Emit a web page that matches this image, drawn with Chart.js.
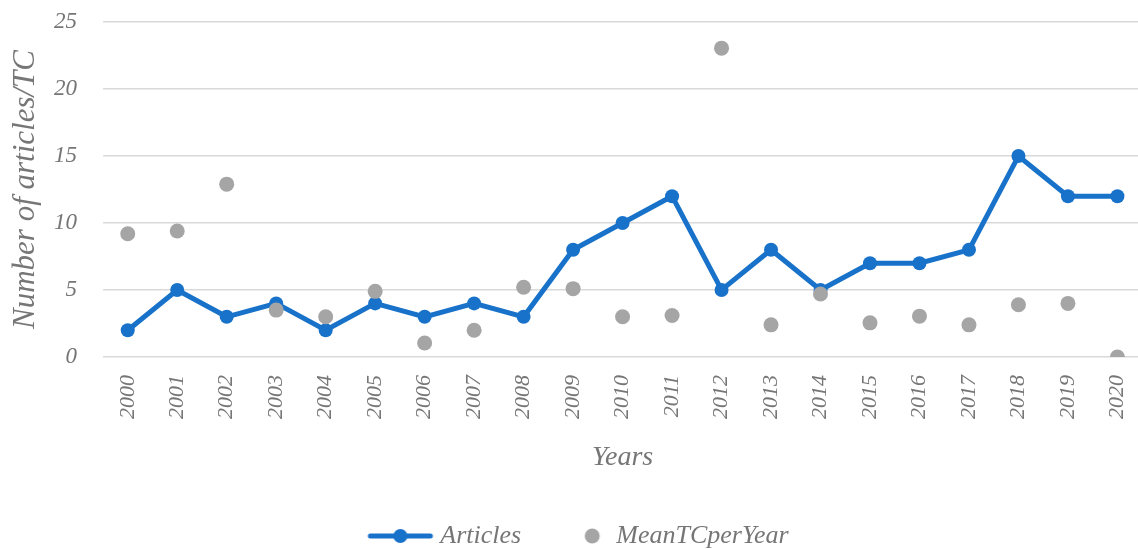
<!DOCTYPE html>
<html>
<head>
<meta charset="utf-8">
<script src="https://cdn.jsdelivr.net/npm/chart.js@4.4.0/dist/chart.umd.min.js"></script>
<style>
  html, body { margin: 0; padding: 0; background: #fff; overflow: hidden; }
  #wrap { width: 1154px; height: 549px; }
</style>
</head>
<body>
<div id="wrap"><canvas id="chart"></canvas></div>
<script>
// ===== Data =====
const years = ["2000", "2001", "2002", "2003", "2004", "2005", "2006", "2007", "2008", "2009", "2010",
  "2011", "2012", "2013", "2014", "2015", "2016", "2017", "2018", "2019", "2020"];
const articles = [2, 5, 3, 4, 2, 4, 3, 4, 3, 8, 10, 12, 5, 8, 5, 7, 7, 8, 15, 12, 12];
const meanTCperYear = [9.2, 9.4, 12.9, 3.5, 3.0, 4.9, 1.05, 2.0, 5.2, 5.1, 3.0, 3.1, 23.05, 2.4, 4.7, 2.55, 3.05, 2.4, 3.9, 4.0, 0];
const yTicks = [0, 5, 10, 15, 20, 25];

const blue = "#1872C9";
const grey = "#A5A5A5";
const textGrey = "#767676";
const fontFamily = "'Liberation Serif', 'DejaVu Serif', serif";

// ===== Legend icons =====
// line with a dot for Articles
function lineIcon() {
  const c = document.createElement("canvas");
  c.width = 80; c.height = 16;
  const g = c.getContext("2d");
  g.strokeStyle = blue;
  g.lineWidth = 5;
  g.lineCap = "round";
  g.beginPath(); g.moveTo(14, 8); g.lineTo(74, 8); g.stroke();
  g.fillStyle = blue;
  g.beginPath(); g.arc(44, 8, 7, 0, Math.PI * 2); g.fill();
  return c;
}
// single dot for MeanTCperYear
function dotIcon() {
  const c = document.createElement("canvas");
  c.width = 80; c.height = 16;
  const g = c.getContext("2d");
  g.fillStyle = grey;
  g.beginPath(); g.arc(60, 8, 7.5, 0, Math.PI * 2); g.fill();
  return c;
}
const icons = [lineIcon(), dotIcon()];

const ctx = document.getElementById("chart").getContext("2d");
new Chart(ctx, {
  type: "line",
  data: {
    labels: years,
    datasets: [
      {
        label: "Articles",
        data: articles,
        borderColor: blue,
        backgroundColor: blue,
        borderWidth: 5,
        pointRadius: 7,
        pointBackgroundColor: blue,
        pointBorderWidth: 0,
        tension: 0,
        fill: false,
        order: 2
      },
      {
        label: "MeanTCperYear",
        data: meanTCperYear,
        showLine: false,
        pointRadius: 7.5,
        pointBackgroundColor: grey,
        pointBorderWidth: 0,
        borderColor: grey,
        backgroundColor: grey,
        order: 1
      }
    ]
  },
  options: {
    responsive: true,
    maintainAspectRatio: false,
    animation: false,
    layout: { padding: { top: 22, right: 0, bottom: -10, left: 0 } },
    plugins: {
      tooltip: { enabled: false },
      legend: {
        position: "bottom",
        labels: {
          usePointStyle: true,
          pointStyleWidth: 62,
          padding: 20,
          font: { family: fontFamily, size: 26, style: "italic" },
          color: textGrey,
          generateLabels: (chart) => chart.data.datasets.map((ds, i) => ({
            text: ds.label,
            fillStyle: ds.backgroundColor,
            strokeStyle: ds.borderColor,
            lineWidth: 0,
            pointStyle: icons[i],
            hidden: false,
            datasetIndex: i,
            fontColor: textGrey
          }))
        }
      }
    },
    scales: {
      x: {
        offset: true,
        grid: { display: false },
        border: { display: false },
        ticks: {
          color: textGrey,
          font: { family: fontFamily, size: 22, style: "italic" },
          maxRotation: 90,
          minRotation: 90,
          padding: 10
        },
        title: {
          display: true,
          text: "Years",
          color: textGrey,
          font: { family: fontFamily, size: 28, style: "italic" },
          padding: { top: 8, bottom: 29 }
        },
        afterFit: (axis) => { axis.height = 146; }
      },
      y: {
        min: 0,
        max: 25,
        afterBuildTicks: (axis) => { axis.ticks = yTicks.map(v => ({ value: v })); },
        // tick marks kept invisible, they only make room for the labels
        grid: { color: "#D9D9D9", lineWidth: 1.5, drawTicks: true, tickLength: 26, tickColor: "rgba(0,0,0,0)" },
        border: { display: false },
        ticks: {
          color: textGrey,
          font: { family: fontFamily, size: 23, style: "italic" },
          padding: 0
        },
        title: {
          display: true,
          text: "Number of articles/TC",
          color: textGrey,
          font: { family: fontFamily, size: 31, style: "italic" },
          padding: { top: 7, bottom: 0 }
        },
        afterFit: (axis) => { axis.width = 103; }
      }
    }
  }
});
</script>
</body>
</html>
